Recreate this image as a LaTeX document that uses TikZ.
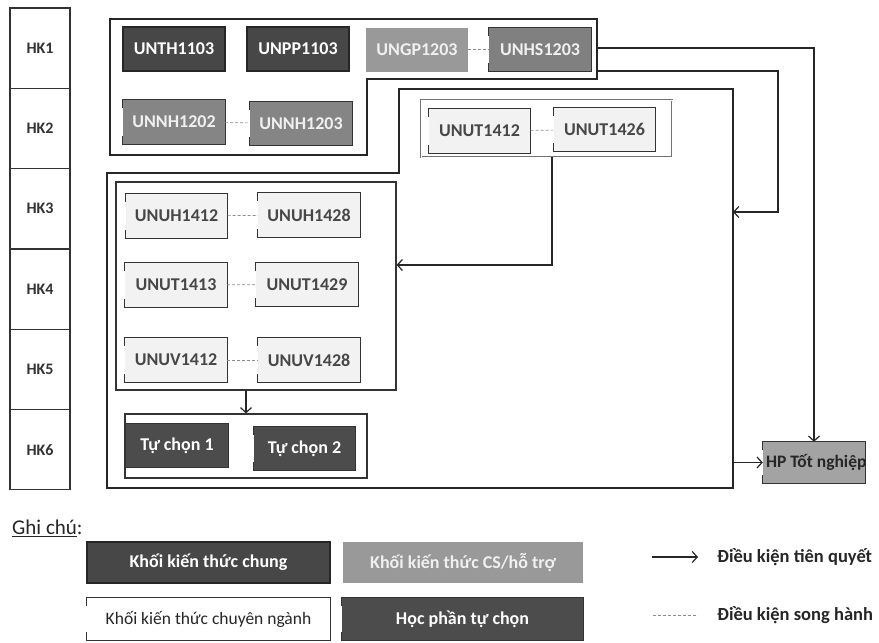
\documentclass[tikz,border=0pt]{standalone}
\usepackage{fontspec}
\setmainfont{Carlito}
\usetikzlibrary{arrows.meta}

\tikzset{
  course/.style={minimum width=102pt, minimum height=44pt, inner sep=0pt,
    font=\fontsize{18}{20}\selectfont\bfseries},
  brkline/.style={draw=black!80, line width=1.3pt, line cap=rect},
  brk/.style={append after command={
      ([yshift=-8pt]\tikzlastnode.north west) edge[brkline] (\tikzlastnode.north west)
      (\tikzlastnode.north west) edge[brkline] (\tikzlastnode.north east)
      (\tikzlastnode.north east) edge[brkline] (\tikzlastnode.south east)
      (\tikzlastnode.south east) edge[brkline] (\tikzlastnode.south west)
      (\tikzlastnode.south west) edge[brkline] ([yshift=8pt]\tikzlastnode.south west)}},
  chung/.style={course, fill=black!72, draw=black!85, line width=1.2pt, text=white},
  cs/.style={course, fill=black!40, text=black!6},
  cn/.style={course, fill=black!5, text=black!72, brk},
  tuchon/.style={course, fill=black!70, text=white, brk},
  grp/.style={draw=black!80, line width=1.2pt},
  arr/.style={draw=black!85, line width=1.2pt, -{Straight Barb[length=5pt,width=11pt]}},
  shline/.style={draw=black!45, densely dashed, line width=0.7pt},
}

\begin{document}
\begin{tikzpicture}[x=1pt, y=-1pt]
  \useasboundingbox[fill=white] (0,0) rectangle (879,643);

  \begin{scope}[every node/.style={draw=black!80, line width=1.2pt, minimum width=60pt,
      minimum height=80.3pt, font=\fontsize{16}{18}\selectfont\bfseries, text=black!80}]
    \node (hk1) at (40,48.2)  {HK1};
    \node (hk2) at (40,128.5) {HK2};
    \node (hk3) at (40,208.8) {HK3};
    \node (hk4) at (40,289.1) {HK4};
    \node (hk5) at (40,369.4) {HK5};
    \node (hk6) at (40,449.7) {HK6};
  \end{scope}

  \draw[line width=1.6pt, black!85] (110,19) -- (597,19) -- (597,79) -- (367,79)
    -- (367,155) -- (110,155) -- cycle;
  \draw[line width=1.6pt, black!85] (399,89) -- (733,89) -- (733,488) -- (107,488)
    -- (107,173) -- (399,173) -- cycle;

  \node[draw=black!55, double, double distance=1pt, minimum width=251pt,
    minimum height=57pt] (utg) at (546.5,128.5) {};
  \node[grp, minimum width=280pt, minimum height=208pt] (mg) at (256,286) {};
  \node[grp, minimum width=242pt, minimum height=64pt] (tcg) at (246,446) {};

  \node[chung] (th) at (174,49) {UNTH1103};
  \node[chung] (pp) at (298,49) {UNPP1103};
  \node[cs] (gp) at (417,49.5) {UNGP1203};
  \node[cs, fill=black!50, brk] (hs) at (540,49.5) {UNHS1203};
  \node[cs, fill=black!48, brk] (nh2) at (174,122) {UNNH1202};
  \node[cs, fill=black!48, brk] (nh3) at (301,123.5) {UNNH1203};

  \node[cn] (ut12) at (479.5,131) {UNUT1412};
  \node[cn] (ut26) at (604.5,129.5) {UNUT1426};

  \node[cn] (uh12) at (176.5,216) {UNUH1412};
  \node[cn] (uh28) at (309,215) {UNUH1428};
  \node[cn] (ut13) at (176,285) {UNUT1413};
  \node[cn] (ut29) at (307,284.5) {UNUT1429};
  \node[cn] (uv12) at (176,360) {UNUV1412};
  \node[cn] (uv28) at (309,360) {UNUV1428};

  \node[tuchon] (tc1) at (177,445.5) {Tự chọn 1};
  \node[tuchon] (tc2) at (304.5,448.5) {Tự chọn 2};

  \node[cs, fill=black!36, brk, minimum height=41pt] (hp) at (814,462.5) {};
  \node[anchor=west, inner sep=0pt, font=\fontsize{17.5}{19}\selectfont\bfseries,
    text=black!85] (hpt) at ([xshift=3pt]hp.west) {HP Tốt nghiệp};

  \begin{scope}[every edge/.style={shline}]
    \path (gp) edge (hs);
    \path (nh2) edge (nh3);
    \path (ut12) edge (ut26);
    \path (uh12) edge (uh28);
    \path (ut13) edge (ut29);
    \path (uv12) edge (uv28);
  \end{scope}

  \coordinate (p1a) at (597,48);
  \coordinate (p1b) at (597,71);
  \coordinate (p2e) at (733,212);
  \coordinate (p2f) at (733,462.5);
  \draw[arr] (p1a) -| (hp.north);
  \draw[arr] (p1b) -| ([xshift=45pt]p2e) -- (p2e);
  \draw[arr] ([xshift=5.5pt]utg.south) |- ([yshift=21pt]mg.east);
  \draw[arr] (tcg.north |- mg.south) -- (tcg.north);
  \draw[arr] (p2f) -- (hp.west);

  \node[anchor=west, inner sep=0pt, font=\fontsize{21}{23}\selectfont,
    text=black!85] (gc) at (12,528) {\underline{Ghi chú}:};

  \node[chung, minimum width=243pt, minimum height=41pt] (l1) at (208.5,562.5)
    {Khối kiến thức chung};
  \node[cs, minimum width=240pt, minimum height=41pt] (l2) at (463,562.5)
    {Khối kiến thức CS/hỗ trợ};
  \node[cn, minimum width=243pt, minimum height=42pt, font=\fontsize{17.5}{19}\selectfont,
    fill=white, text=black!85] (l3) at (208.5,619) {Khối kiến thức chuyên ngành};
  \node[tuchon, minimum width=241pt, minimum height=42pt] (l4) at (462.5,619)
    {Học phần tự chọn};

  \node[anchor=west, inner sep=0pt, font=\fontsize{18.5}{20}\selectfont\bfseries,
    text=black!85] (tq) at (717,557) {Điều kiện tiên quyết};
  \node[anchor=west, inner sep=0pt, font=\fontsize{18.5}{20}\selectfont\bfseries,
    text=black!85] (sh) at (717,615) {Điều kiện song hành};
  \draw[arr] ([xshift=-65pt]tq.west) -- ([xshift=-19pt]tq.west);
  \draw[shline] ([xshift=-64pt]sh.west) -- ([xshift=-19pt]sh.west);

\end{tikzpicture}
\end{document}
